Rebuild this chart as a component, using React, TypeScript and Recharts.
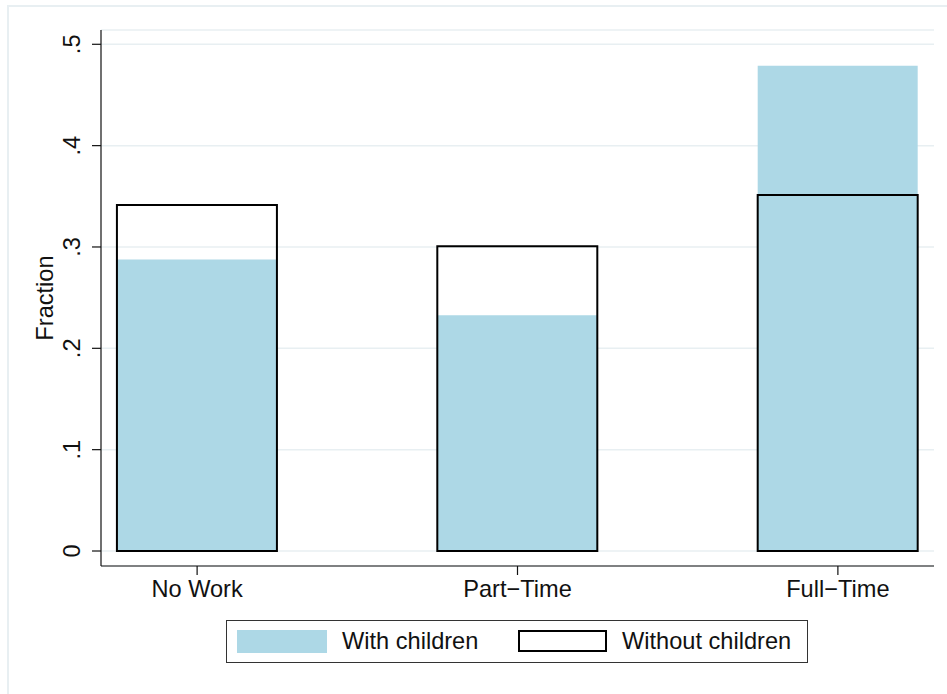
import React from 'react';
import { ComposedChart, Bar, XAxis, YAxis, CartesianGrid } from 'recharts';

const categories = ['No Work', 'Part\u2212Time', 'Full\u2212Time'];
const withChildren = [0.2877, 0.2327, 0.4789];
const withoutChildren = [0.3413, 0.3007, 0.3512];
const yTicks = [0, 0.1, 0.2, 0.3, 0.4, 0.5];
const seriesNames = ['With children', 'Without children'];

const data = categories.map((c, i) => ({
  pos: i + 1,
  name: c,
  withChildren: withChildren[i],
  withoutChildren: withoutChildren[i],
}));

const FONT = '"Liberation Sans", Arial, Helvetica, sans-serif';
const FS = 23.6;
const BLUE = '#ADD8E6';
const TXT = '#111';

const fmtY = (v: number) => (v === 0 ? '0' : v.toFixed(1).replace(/^0/, ''));

const YTick = (props: any) => {
  const { x, y, payload } = props;
  return (
    <text
      x={x}
      y={y}
      transform={`rotate(-90, ${x}, ${y})`}
      textAnchor="middle"
      fontSize={FS}
      fill={TXT}
      fontFamily={FONT}
    >
      {fmtY(payload.value)}
    </text>
  );
};

const XTick = (props: any) => {
  const { x, y, payload } = props;
  const label = categories[Math.round(payload.value) - 1] ?? '';
  return (
    <text x={x} y={y + 18} textAnchor="middle" fontSize={FS} fill={TXT} fontFamily={FONT}>
      {label}
    </text>
  );
};

export default function App() {
  return (
    <div style={{ position: 'absolute', left: 0, top: 0, width: 947, height: 694, background: '#fff', overflow: 'hidden' }}>
      <div
        style={{
          position: 'absolute',
          left: 7,
          top: 5,
          width: 960,
          height: 700,
          borderLeft: '2px solid #e8eff2',
          borderTop: '2px solid #e8eff2',
        }}
      />
      <div style={{ position: 'absolute', left: 0, top: 0 }}>
        <ComposedChart
          width={947}
          height={694}
          data={data}
          margin={{ top: 30, right: 13, bottom: 88, left: 0 }}
          barGap={-160}
        >
          <CartesianGrid vertical={false} stroke="#e8eff2" strokeWidth={1.5} />
          <XAxis
            dataKey="pos"
            type="number"
            domain={[0.7, 3.3]}
            ticks={[1, 2, 3]}
            allowDataOverflow
            height={40}
            tickSize={9}
            tickMargin={4}
            axisLine={{ stroke: '#111', strokeWidth: 1.2 }}
            tickLine={{ stroke: '#111', strokeWidth: 1.2 }}
            tick={<XTick />}
            interval={0}
          />
          <YAxis
            type="number"
            width={101}
            domain={[-0.0148, 0.5141]}
            ticks={yTicks}
            allowDataOverflow
            tickSize={9}
            tickMargin={12}
            axisLine={{ stroke: '#111', strokeWidth: 1.2 }}
            tickLine={{ stroke: '#111', strokeWidth: 1.2 }}
            tick={<YTick />}
            interval={0}
            label={{
              content: () => (
                <text
                  x={53}
                  y={298}
                  transform="rotate(-90, 53, 298)"
                  textAnchor="middle"
                  fontSize={FS}
                  fill={TXT}
                  fontFamily={FONT}
                >
                  Fraction
                </text>
              ),
            }}
          />
          <Bar dataKey="withChildren" name={seriesNames[0]} fill={BLUE} barSize={160} isAnimationActive={false} />
          <Bar
            dataKey="withoutChildren"
            name={seriesNames[1]}
            fill="none"
            stroke="#000"
            strokeWidth={2}
            barSize={160}
            isAnimationActive={false}
          />
        </ComposedChart>
      </div>
      <div
        style={{
          position: 'absolute',
          left: 226,
          top: 620,
          width: 582,
          height: 43,
          border: '1.5px solid #333',
          boxSizing: 'border-box',
          fontFamily: FONT,
          fontSize: FS,
          color: TXT,
        }}
      >
        <div style={{ position: 'absolute', left: 10, top: 9, width: 90, height: 23, background: BLUE }} />
        <div style={{ position: 'absolute', left: 115, top: 0, height: 40, lineHeight: '40px', whiteSpace: 'nowrap' }}>{seriesNames[0]}</div>
        <div
          style={{
            position: 'absolute',
            left: 291,
            top: 9,
            width: 89,
            height: 22,
            border: '2px solid #000',
            boxSizing: 'border-box',
          }}
        />
        <div style={{ position: 'absolute', left: 395, top: 0, height: 40, lineHeight: '40px', whiteSpace: 'nowrap' }}>{seriesNames[1]}</div>
      </div>
    </div>
  );
}
